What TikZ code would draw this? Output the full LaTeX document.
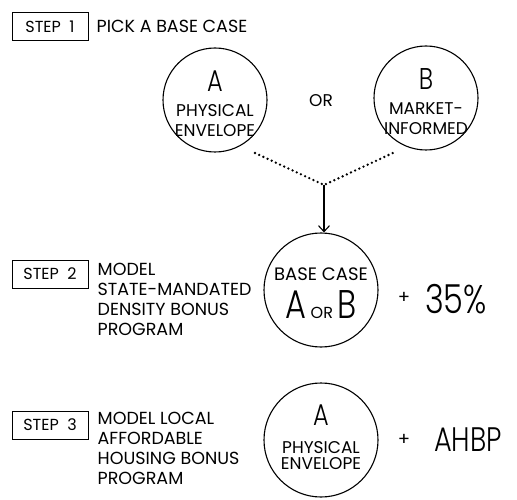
\documentclass[tikz,border=0pt]{standalone}
\usepackage{fontspec}
\setmainfont{Poppins}
\newfontfamily\narrowfont{Poppins Light}[FakeStretch=0.8]
\usetikzlibrary{arrows.meta,positioning}
\tikzset{
    stepbox/.style={rectangle, draw, line width=1pt,
        minimum width=76pt, minimum height=28pt, inner sep=0pt,
        font=\fontsize{16}{18}\selectfont},
    steplabel/.style={inner sep=0pt, align=left, font=\fontsize{17.5}{20}\selectfont},
    casecircle/.style={circle, draw, line width=1.1pt, inner sep=0pt},
    casetext/.style={inner sep=0pt, align=center, font=\fontsize{17}{20}\selectfont},
    dotline/.style={line width=2.6pt, line cap=round, dash pattern=on 0pt off 4.6pt},
    arrow/.style={-{Straight Barb[length=6pt,width=11pt]}, line width=1.1pt}
}
\newcommand{\bigletter}[2]{{\narrowfont\fontsize{#1}{#1}\selectfont #2}}

\begin{document}
\begin{tikzpicture}[x=1pt, y=-1pt]
    \useasboundingbox (0,0) rectangle (517,500);
    % step 1
    \node[stepbox] (step1) at (50,27) {STEP~~1};
    \node[steplabel, right=8pt of step1.base east, anchor=base west] (pick) {PICK A BASE CASE};
    \node[casecircle, minimum size=104pt] (caseA) at (215,100) {};
    \node[casetext] (caseAtext) at ([shift={(0,4)}]caseA.center)
        {\bigletter{30}{A}\\[5pt]PHYSICAL\\ENVELOPE};
    \node[casetext] (or) at (321,101) {OR};
    \node[casecircle, minimum size=104pt] (caseB) at (426,98) {};
    \node[casetext] (caseBtext) at ([shift={(0,4)}]caseB.center)
        {\bigletter{30}{B}\\[5pt]MARKET-\\INFORMED};
    \coordinate (join) at (324,185);
    \coordinate (fromA) at (255,153);
    \coordinate (fromB) at (395,152);
    \draw[dotline] (fromA) -- (join) -- (fromB);
    % step 2
    \node[stepbox] (step2) at (50,274) {STEP~~2};
    \node[steplabel, anchor=north west] (model) at ([shift={(9,3)}]step2.north east)
        {MODEL\\STATE-MANDATED\\DENSITY BONUS\\PROGRAM};
    \node[casecircle, minimum size=114pt] (base) at (321,290) {};
    \draw[arrow] (join) -- (join |- base.north);
    \node[casetext, font=\fontsize{18}{38}\selectfont] (basetext) at ([shift={(0,3)}]base.center)
        {BASE CASE\\\bigletter{40}{A} {\fontsize{16}{16}\selectfont OR} \bigletter{40}{B}};
    \node[font=\fontsize{18}{18}\selectfont] (plus2) at (404,298) {+};
    \node[anchor=base west, inner sep=0pt] (bonus2) at (425,313) {\bigletter{40}{35\%}};
    % step 3
    \node[stepbox] (step3) at (50,425) {STEP~~3};
    \node[steplabel, anchor=north west] (local) at ([shift={(9,1)}]step3.north east)
        {MODEL LOCAL\\AFFORDABLE\\HOUSING BONUS\\PROGRAM};
    \node[casecircle, minimum size=114pt] (result) at (321,440) {};
    \node[casetext, font=\fontsize{17}{16}\selectfont] (resulttext) at ([shift={(0,-3)}]result.center)
        {\bigletter{30}{A}\\[12pt]PHYSICAL\\ENVELOPE};
    \node[font=\fontsize{18}{18}\selectfont] (plus3) at (404,440) {+};
    \node[anchor=base west, inner sep=0pt] (bonus3) at (434,451) {\bigletter{34}{AHBP}};
\end{tikzpicture}
\end{document}
